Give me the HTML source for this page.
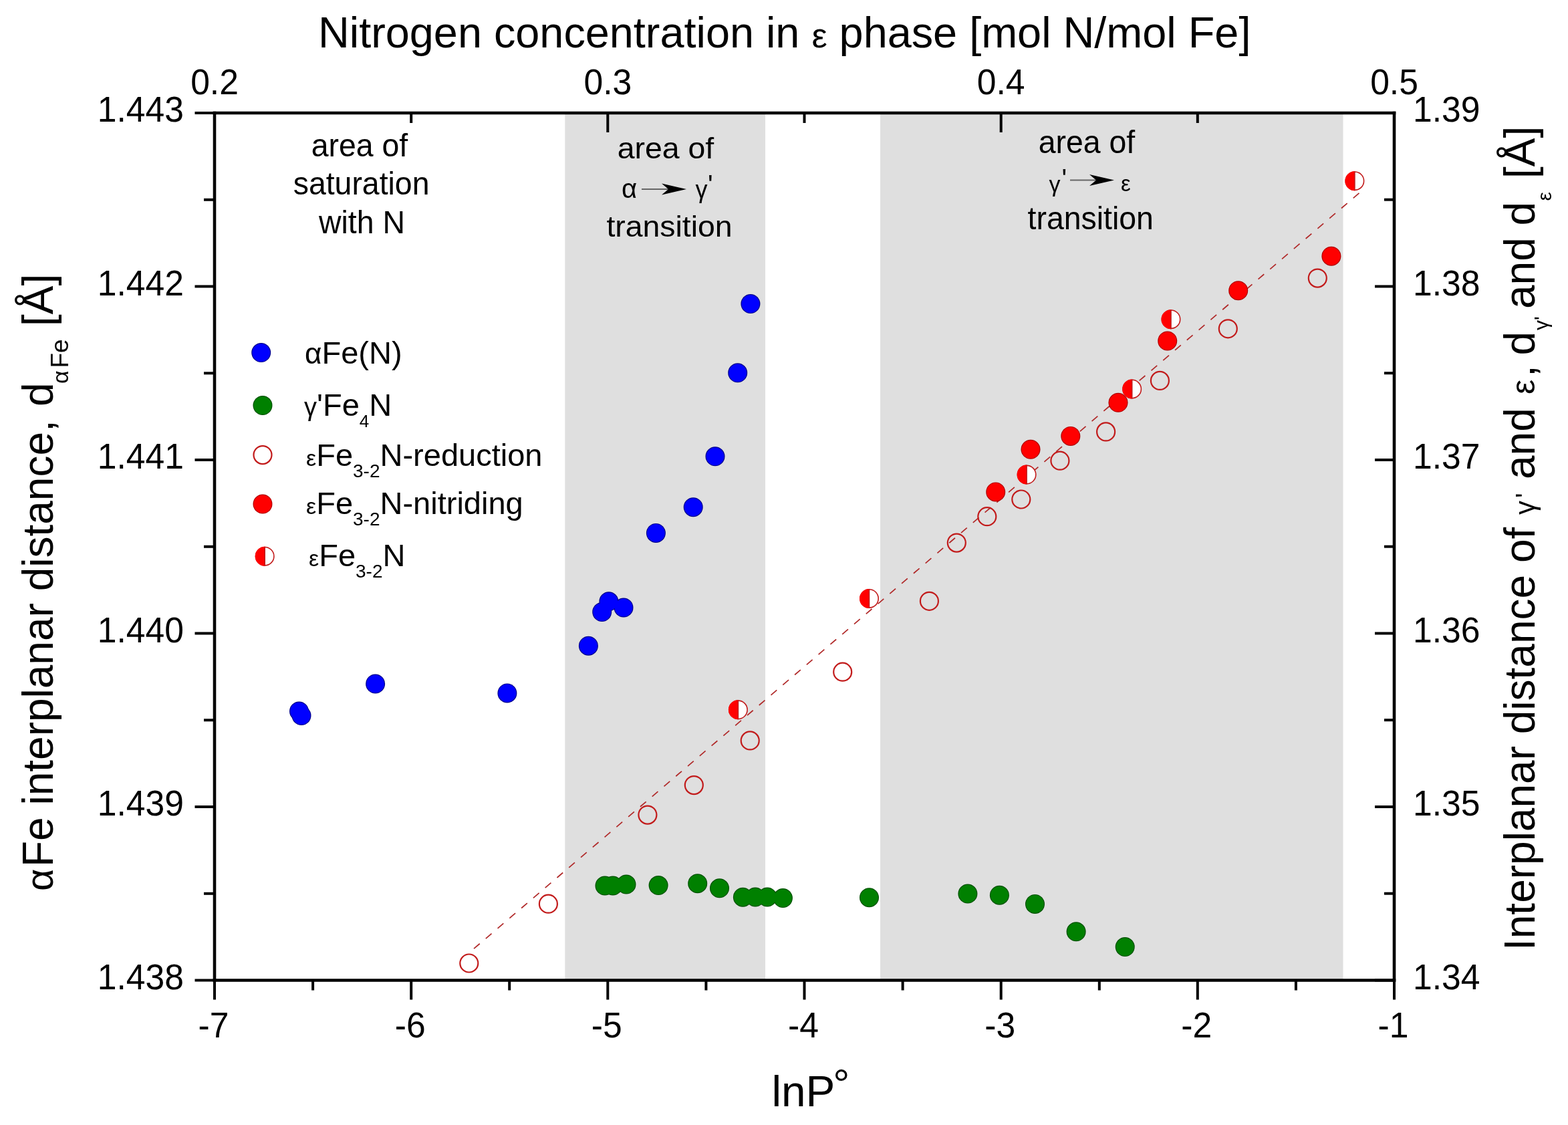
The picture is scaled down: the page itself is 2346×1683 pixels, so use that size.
<!DOCTYPE html>
<html><head><meta charset="utf-8"><title>Interplanar distance vs lnP</title>
<style>html,body{margin:0;padding:0;background:#fff;}body{width:2346px;height:1683px;overflow:hidden;}svg{display:block;}text{font-family:'Liberation Sans', Arial, sans-serif;fill:#000;}</style>
</head><body>
<svg width="2346" height="1683" viewBox="0 0 2346 1683">
<rect x="0" y="0" width="2346" height="1683" fill="#fff"/>
<rect x="845.3" y="169.0" width="299.7" height="1297.5" fill="#dfdfdf"/>
<rect x="1317" y="169.0" width="692.5" height="1297.5" fill="#dfdfdf"/>
<g stroke="#000" stroke-linecap="butt" fill="none">
<line x1="321.0" y1="166.7" x2="321.0" y2="1468.8" stroke-width="4.6"/>
<line x1="2086.0" y1="166.7" x2="2086.0" y2="1468.8" stroke-width="4.6"/>
<line x1="318.7" y1="169.0" x2="2088.3" y2="169.0" stroke-width="4.6"/>
<line x1="318.7" y1="1466.5" x2="2088.3" y2="1466.5" stroke-width="4.6"/>
<line x1="321.0" y1="1466.5" x2="321.0" y2="1495.5" stroke-width="4.0"/>
<line x1="468.1" y1="1466.5" x2="468.1" y2="1481.5" stroke-width="4.0"/>
<line x1="615.2" y1="1466.5" x2="615.2" y2="1495.5" stroke-width="4.0"/>
<line x1="762.2" y1="1466.5" x2="762.2" y2="1481.5" stroke-width="4.0"/>
<line x1="909.3" y1="1466.5" x2="909.3" y2="1495.5" stroke-width="4.0"/>
<line x1="1056.4" y1="1466.5" x2="1056.4" y2="1481.5" stroke-width="4.0"/>
<line x1="1203.5" y1="1466.5" x2="1203.5" y2="1495.5" stroke-width="4.0"/>
<line x1="1350.6" y1="1466.5" x2="1350.6" y2="1481.5" stroke-width="4.0"/>
<line x1="1497.7" y1="1466.5" x2="1497.7" y2="1495.5" stroke-width="4.0"/>
<line x1="1644.8" y1="1466.5" x2="1644.8" y2="1481.5" stroke-width="4.0"/>
<line x1="1791.8" y1="1466.5" x2="1791.8" y2="1495.5" stroke-width="4.0"/>
<line x1="1938.9" y1="1466.5" x2="1938.9" y2="1481.5" stroke-width="4.0"/>
<line x1="2086.0" y1="1466.5" x2="2086.0" y2="1495.5" stroke-width="4.0"/>
<line x1="321.0" y1="169.0" x2="321.0" y2="198.0" stroke-width="4.0"/>
<line x1="615.2" y1="169.0" x2="615.2" y2="184.0" stroke-width="4.0"/>
<line x1="909.3" y1="169.0" x2="909.3" y2="198.0" stroke-width="4.0"/>
<line x1="1203.5" y1="169.0" x2="1203.5" y2="184.0" stroke-width="4.0"/>
<line x1="1497.7" y1="169.0" x2="1497.7" y2="198.0" stroke-width="4.0"/>
<line x1="1791.8" y1="169.0" x2="1791.8" y2="184.0" stroke-width="4.0"/>
<line x1="2086.0" y1="169.0" x2="2086.0" y2="198.0" stroke-width="4.0"/>
<line x1="321.0" y1="1466.5" x2="291.5" y2="1466.5" stroke-width="4.0"/>
<line x1="321.0" y1="1336.8" x2="305.0" y2="1336.8" stroke-width="4.0"/>
<line x1="321.0" y1="1207.0" x2="291.5" y2="1207.0" stroke-width="4.0"/>
<line x1="321.0" y1="1077.3" x2="305.0" y2="1077.3" stroke-width="4.0"/>
<line x1="321.0" y1="947.5" x2="291.5" y2="947.5" stroke-width="4.0"/>
<line x1="321.0" y1="817.8" x2="305.0" y2="817.8" stroke-width="4.0"/>
<line x1="321.0" y1="688.0" x2="291.5" y2="688.0" stroke-width="4.0"/>
<line x1="321.0" y1="558.3" x2="305.0" y2="558.3" stroke-width="4.0"/>
<line x1="321.0" y1="428.5" x2="291.5" y2="428.5" stroke-width="4.0"/>
<line x1="321.0" y1="298.8" x2="305.0" y2="298.8" stroke-width="4.0"/>
<line x1="321.0" y1="169.0" x2="291.5" y2="169.0" stroke-width="4.0"/>
<line x1="2086.0" y1="1466.5" x2="2057.0" y2="1466.5" stroke-width="4.0"/>
<line x1="2086.0" y1="1336.7" x2="2071.0" y2="1336.7" stroke-width="4.0"/>
<line x1="2086.0" y1="1207.0" x2="2057.0" y2="1207.0" stroke-width="4.0"/>
<line x1="2086.0" y1="1077.2" x2="2071.0" y2="1077.2" stroke-width="4.0"/>
<line x1="2086.0" y1="947.5" x2="2057.0" y2="947.5" stroke-width="4.0"/>
<line x1="2086.0" y1="817.7" x2="2071.0" y2="817.7" stroke-width="4.0"/>
<line x1="2086.0" y1="688.0" x2="2057.0" y2="688.0" stroke-width="4.0"/>
<line x1="2086.0" y1="558.2" x2="2071.0" y2="558.2" stroke-width="4.0"/>
<line x1="2086.0" y1="428.5" x2="2057.0" y2="428.5" stroke-width="4.0"/>
<line x1="2086.0" y1="298.7" x2="2071.0" y2="298.7" stroke-width="4.0"/>
<line x1="2086.0" y1="169.0" x2="2057.0" y2="169.0" stroke-width="4.0"/>
</g>
<text transform="translate(319.5,1552.0) scale(0.965,1)" font-size="53.5" text-anchor="middle">-7</text>
<text transform="translate(613.7,1552.0) scale(0.965,1)" font-size="53.5" text-anchor="middle">-6</text>
<text transform="translate(907.8,1552.0) scale(0.965,1)" font-size="53.5" text-anchor="middle">-5</text>
<text transform="translate(1202.0,1552.0) scale(0.965,1)" font-size="53.5" text-anchor="middle">-4</text>
<text transform="translate(1496.2,1552.0) scale(0.965,1)" font-size="53.5" text-anchor="middle">-3</text>
<text transform="translate(1790.3,1552.0) scale(0.965,1)" font-size="53.5" text-anchor="middle">-2</text>
<text transform="translate(2084.5,1552.0) scale(0.965,1)" font-size="53.5" text-anchor="middle">-1</text>
<text transform="translate(321.0,141.3) scale(0.965,1)" font-size="53.5" text-anchor="middle">0.2</text>
<text transform="translate(909.3,141.3) scale(0.965,1)" font-size="53.5" text-anchor="middle">0.3</text>
<text transform="translate(1497.7,141.3) scale(0.965,1)" font-size="53.5" text-anchor="middle">0.4</text>
<text transform="translate(2086.0,141.3) scale(0.965,1)" font-size="53.5" text-anchor="middle">0.5</text>
<text transform="translate(275.0,1479.9) scale(0.965,1)" font-size="53.5" text-anchor="end">1.438</text>
<text transform="translate(275.0,1220.4) scale(0.965,1)" font-size="53.5" text-anchor="end">1.439</text>
<text transform="translate(275.0,960.9) scale(0.965,1)" font-size="53.5" text-anchor="end">1.440</text>
<text transform="translate(275.0,701.4) scale(0.965,1)" font-size="53.5" text-anchor="end">1.441</text>
<text transform="translate(275.0,441.9) scale(0.965,1)" font-size="53.5" text-anchor="end">1.442</text>
<text transform="translate(275.0,182.4) scale(0.965,1)" font-size="53.5" text-anchor="end">1.443</text>
<text transform="translate(2114.0,1479.9) scale(0.965,1)" font-size="53.5">1.34</text>
<text transform="translate(2114.0,1220.4) scale(0.965,1)" font-size="53.5">1.35</text>
<text transform="translate(2114.0,960.9) scale(0.965,1)" font-size="53.5">1.36</text>
<text transform="translate(2114.0,701.4) scale(0.965,1)" font-size="53.5">1.37</text>
<text transform="translate(2114.0,441.9) scale(0.965,1)" font-size="53.5">1.38</text>
<text transform="translate(2114.0,182.4) scale(0.965,1)" font-size="53.5">1.39</text>
<text transform="translate(476.0,70.5)" font-size="64.8">Nitrogen concentration in <tspan font-size="52">ε</tspan> phase [mol N/mol Fe]</text>
<text transform="translate(1154.5,1654.5) scale(1.010,1)" font-size="65.0">lnP<tspan dx="-3" dy="-12" font-size="62">°</tspan></text>
<text transform="translate(79.0,1333.0) rotate(-90)" font-size="58.0">α</text>
<text transform="translate(78.5,1297.0) rotate(-90)" font-size="64.0">Fe interplanar distance,</text>
<text transform="translate(78.5,608.0) rotate(-90)" font-size="64.0">d</text>
<text transform="translate(101.5,574.0) rotate(-90)" font-size="34.0">α</text>
<text transform="translate(101.5,550.5) rotate(-90)" font-size="37.0">Fe</text>
<text transform="translate(78.5,488.0) rotate(-90)" font-size="64.0">[Å]</text>
<text transform="translate(2296.0,1422.0) rotate(-90)" font-size="64.0">Interplanar distance of</text>
<text transform="translate(2296.0,770.0) rotate(-90)" font-size="42.0">γ</text>
<text transform="translate(2296.0,745.0) rotate(-90)" font-size="40.0">'</text>
<text transform="translate(2296.0,717.0) rotate(-90)" font-size="64.0">and</text>
<text transform="translate(2296.0,590.0) rotate(-90)" font-size="50.0">ε</text>
<text transform="translate(2296.0,564.0) rotate(-90)" font-size="64.0">,</text>
<text transform="translate(2296.0,531.5) rotate(-90)" font-size="64.0">d</text>
<text transform="translate(2316.0,494.0) rotate(-90)" font-size="30.0">γ'</text>
<text transform="translate(2296.0,462.0) rotate(-90)" font-size="64.0">and d</text>
<text transform="translate(2321.0,300.5) rotate(-90)" font-size="30.0">ε</text>
<text transform="translate(2296.0,267.0) rotate(-90)" font-size="64.0">[Å]</text>
<text transform="translate(538.0,234.0) scale(0.967,1)" font-size="48.0" text-anchor="middle">area of</text>
<text transform="translate(540.6,291.2) scale(0.967,1)" font-size="48.0" text-anchor="middle">saturation</text>
<text transform="translate(541.5,348.8) scale(0.967,1)" font-size="48.0" text-anchor="middle">with N</text>
<text transform="translate(1625.9,228.7) scale(0.967,1)" font-size="48.0" text-anchor="middle">area of</text>
<text transform="translate(1631.7,342.6) scale(0.967,1)" font-size="48.0" text-anchor="middle">transition</text>
<text transform="translate(995.9,236.8) scale(1.031,1)" font-size="45.0" text-anchor="middle">area of</text>
<text transform="translate(1001.5,353.7) scale(1.031,1)" font-size="45.0" text-anchor="middle">transition</text>
<text transform="translate(930.0,296.0)" font-size="40.0">α</text>
<text transform="translate(1040.5,296.0)" font-size="36.0">γ</text>
<text transform="translate(1059.0,290.0)" font-size="40.0">'</text>
<text transform="translate(1569.5,286.5)" font-size="34.0">γ</text>
<text transform="translate(1588.5,281.0)" font-size="40.0">'</text>
<text transform="translate(1677.0,285.7)" font-size="33.0">ε</text>
<line x1="960.0" y1="283.0" x2="1007.0" y2="283.0" stroke="#666" stroke-width="2.2"/><path d="M1027.0 283.0 L990.0 274.5 L1000.0 283.0 L990.0 291.5 Z" fill="#000"/>
<line x1="1601.0" y1="269.5" x2="1647.0" y2="269.5" stroke="#666" stroke-width="2.2"/><path d="M1667.0 269.5 L1630.0 261.0 L1640.0 269.5 L1630.0 278.0 Z" fill="#000"/>
<circle cx="393" cy="680.6" r="13.5" fill="none" stroke="#c21b1b" stroke-width="2.2"/>
<circle cx="396.2" cy="832.2" r="13.7" fill="#fff" stroke="#c21b1b" stroke-width="1.6"/><path d="M396.2 817.7 A14.5 14.5 0 0 0 396.2 846.7 Z" fill="#ff0000"/><line x1="396.2" y1="817.7" x2="396.2" y2="846.7" stroke="#c21b1b" stroke-width="1.6"/>
<text transform="translate(456.0,544.2)" font-size="47.0"><tspan font-size="44">α</tspan>Fe(N)</text>
<text transform="translate(455.0,622.0)" font-size="47.0"><tspan font-size="38">γ</tspan>'Fe<tspan font-size="26" dy="17">4</tspan><tspan dy="-17">N</tspan></text>
<text transform="translate(458.0,696.7)" font-size="47.0"><tspan font-size="34">ε</tspan>Fe<tspan font-size="28" dy="17">3-2</tspan><tspan dy="-17">N-reduction</tspan></text>
<text transform="translate(458.0,769.1)" font-size="47.0"><tspan font-size="34">ε</tspan>Fe<tspan font-size="28" dy="17">3-2</tspan><tspan dy="-17">N-nitriding</tspan></text>
<text transform="translate(462.0,847.4)" font-size="47.0"><tspan font-size="34">ε</tspan>Fe<tspan font-size="28" dy="17">3-2</tspan><tspan dy="-17">N</tspan></text>
<line x1="709.0" y1="1419.2" x2="2036.0" y2="286.7" stroke="#b02828" stroke-width="1.7" stroke-dasharray="11.5 11.875"/>
<circle cx="447.5" cy="1064.0" r="14.50" fill="#00008a"/>
<circle cx="451.0" cy="1070.5" r="14.50" fill="#00008a"/>
<circle cx="561.6" cy="1023.0" r="14.50" fill="#00008a"/>
<circle cx="758.9" cy="1036.9" r="14.50" fill="#00008a"/>
<circle cx="880.4" cy="966.2" r="14.50" fill="#00008a"/>
<circle cx="900.7" cy="915.5" r="14.50" fill="#00008a"/>
<circle cx="910.9" cy="899.8" r="14.50" fill="#00008a"/>
<circle cx="933.0" cy="909.0" r="14.50" fill="#00008a"/>
<circle cx="981.4" cy="797.4" r="14.50" fill="#00008a"/>
<circle cx="1037.2" cy="758.7" r="14.50" fill="#00008a"/>
<circle cx="1070.0" cy="682.8" r="14.50" fill="#00008a"/>
<circle cx="1103.7" cy="557.8" r="14.50" fill="#00008a"/>
<circle cx="1122.9" cy="454.6" r="14.50" fill="#00008a"/>
<circle cx="390.7" cy="527.6" r="14.50" fill="#00008a"/>
<circle cx="447.5" cy="1064.0" r="13.30" fill="#0000ff"/>
<circle cx="451.0" cy="1070.5" r="13.30" fill="#0000ff"/>
<circle cx="561.6" cy="1023.0" r="13.30" fill="#0000ff"/>
<circle cx="758.9" cy="1036.9" r="13.30" fill="#0000ff"/>
<circle cx="880.4" cy="966.2" r="13.30" fill="#0000ff"/>
<circle cx="900.7" cy="915.5" r="13.30" fill="#0000ff"/>
<circle cx="910.9" cy="899.8" r="13.30" fill="#0000ff"/>
<circle cx="933.0" cy="909.0" r="13.30" fill="#0000ff"/>
<circle cx="981.4" cy="797.4" r="13.30" fill="#0000ff"/>
<circle cx="1037.2" cy="758.7" r="13.30" fill="#0000ff"/>
<circle cx="1070.0" cy="682.8" r="13.30" fill="#0000ff"/>
<circle cx="1103.7" cy="557.8" r="13.30" fill="#0000ff"/>
<circle cx="1122.9" cy="454.6" r="13.30" fill="#0000ff"/>
<circle cx="390.7" cy="527.6" r="13.30" fill="#0000ff"/>
<circle cx="905.0" cy="1325.0" r="14.50" fill="#005000"/>
<circle cx="917.0" cy="1325.0" r="14.50" fill="#005000"/>
<circle cx="937.0" cy="1323.0" r="14.50" fill="#005000"/>
<circle cx="985.1" cy="1324.6" r="14.50" fill="#005000"/>
<circle cx="1043.7" cy="1321.7" r="14.50" fill="#005000"/>
<circle cx="1076.5" cy="1328.8" r="14.50" fill="#005000"/>
<circle cx="1111.4" cy="1342.2" r="14.50" fill="#005000"/>
<circle cx="1130.0" cy="1342.0" r="14.50" fill="#005000"/>
<circle cx="1148.0" cy="1342.0" r="14.50" fill="#005000"/>
<circle cx="1171.4" cy="1343.6" r="14.50" fill="#005000"/>
<circle cx="1300.5" cy="1342.7" r="14.50" fill="#005000"/>
<circle cx="1447.9" cy="1337.1" r="14.50" fill="#005000"/>
<circle cx="1495.4" cy="1339.2" r="14.50" fill="#005000"/>
<circle cx="1548.5" cy="1352.4" r="14.50" fill="#005000"/>
<circle cx="1610.1" cy="1393.8" r="14.50" fill="#005000"/>
<circle cx="1683.2" cy="1416.6" r="14.50" fill="#005000"/>
<circle cx="393.0" cy="606.5" r="14.50" fill="#005000"/>
<circle cx="905.0" cy="1325.0" r="13.30" fill="#008000"/>
<circle cx="917.0" cy="1325.0" r="13.30" fill="#008000"/>
<circle cx="937.0" cy="1323.0" r="13.30" fill="#008000"/>
<circle cx="985.1" cy="1324.6" r="13.30" fill="#008000"/>
<circle cx="1043.7" cy="1321.7" r="13.30" fill="#008000"/>
<circle cx="1076.5" cy="1328.8" r="13.30" fill="#008000"/>
<circle cx="1111.4" cy="1342.2" r="13.30" fill="#008000"/>
<circle cx="1130.0" cy="1342.0" r="13.30" fill="#008000"/>
<circle cx="1148.0" cy="1342.0" r="13.30" fill="#008000"/>
<circle cx="1171.4" cy="1343.6" r="13.30" fill="#008000"/>
<circle cx="1300.5" cy="1342.7" r="13.30" fill="#008000"/>
<circle cx="1447.9" cy="1337.1" r="13.30" fill="#008000"/>
<circle cx="1495.4" cy="1339.2" r="13.30" fill="#008000"/>
<circle cx="1548.5" cy="1352.4" r="13.30" fill="#008000"/>
<circle cx="1610.1" cy="1393.8" r="13.30" fill="#008000"/>
<circle cx="1683.2" cy="1416.6" r="13.30" fill="#008000"/>
<circle cx="393.0" cy="606.5" r="13.30" fill="#008000"/>
<circle cx="701.8" cy="1441.0" r="13.5" fill="none" stroke="#c21b1b" stroke-width="2.2"/>
<circle cx="820.4" cy="1352.2" r="13.5" fill="none" stroke="#c21b1b" stroke-width="2.2"/>
<circle cx="968.9" cy="1219.1" r="13.5" fill="none" stroke="#c21b1b" stroke-width="2.2"/>
<circle cx="1038.3" cy="1174.6" r="13.5" fill="none" stroke="#c21b1b" stroke-width="2.2"/>
<circle cx="1122.2" cy="1107.9" r="13.5" fill="none" stroke="#c21b1b" stroke-width="2.2"/>
<circle cx="1260.7" cy="1005.2" r="13.5" fill="none" stroke="#c21b1b" stroke-width="2.2"/>
<circle cx="1390.4" cy="899.3" r="13.5" fill="none" stroke="#c21b1b" stroke-width="2.2"/>
<circle cx="1431.3" cy="812.1" r="13.5" fill="none" stroke="#c21b1b" stroke-width="2.2"/>
<circle cx="1476.8" cy="772.7" r="13.5" fill="none" stroke="#c21b1b" stroke-width="2.2"/>
<circle cx="1527.8" cy="747.0" r="13.5" fill="none" stroke="#c21b1b" stroke-width="2.2"/>
<circle cx="1585.9" cy="689.2" r="13.5" fill="none" stroke="#c21b1b" stroke-width="2.2"/>
<circle cx="1654.6" cy="645.9" r="13.5" fill="none" stroke="#c21b1b" stroke-width="2.2"/>
<circle cx="1735.4" cy="569.4" r="13.5" fill="none" stroke="#c21b1b" stroke-width="2.2"/>
<circle cx="1837.3" cy="491.8" r="13.5" fill="none" stroke="#c21b1b" stroke-width="2.2"/>
<circle cx="1971.3" cy="416.1" r="13.5" fill="none" stroke="#c21b1b" stroke-width="2.2"/>
<circle cx="1489.7" cy="735.9" r="14.50" fill="#b00000"/>
<circle cx="1542.0" cy="672.3" r="14.50" fill="#b00000"/>
<circle cx="1601.8" cy="652.4" r="14.50" fill="#b00000"/>
<circle cx="1673.0" cy="602.3" r="14.50" fill="#b00000"/>
<circle cx="1746.7" cy="510.0" r="14.50" fill="#b00000"/>
<circle cx="1852.7" cy="434.7" r="14.50" fill="#b00000"/>
<circle cx="1991.9" cy="383.2" r="14.50" fill="#b00000"/>
<circle cx="393.0" cy="754.0" r="14.50" fill="#b00000"/>
<circle cx="1489.7" cy="735.9" r="13.30" fill="#ff0000"/>
<circle cx="1542.0" cy="672.3" r="13.30" fill="#ff0000"/>
<circle cx="1601.8" cy="652.4" r="13.30" fill="#ff0000"/>
<circle cx="1673.0" cy="602.3" r="13.30" fill="#ff0000"/>
<circle cx="1746.7" cy="510.0" r="13.30" fill="#ff0000"/>
<circle cx="1852.7" cy="434.7" r="13.30" fill="#ff0000"/>
<circle cx="1991.9" cy="383.2" r="13.30" fill="#ff0000"/>
<circle cx="393.0" cy="754.0" r="13.30" fill="#ff0000"/>
<circle cx="1104.4" cy="1061.8" r="13.7" fill="#fff" stroke="#c21b1b" stroke-width="1.6"/><path d="M1104.4 1047.3 A14.5 14.5 0 0 0 1104.4 1076.3 Z" fill="#ff0000"/><line x1="1104.4" y1="1047.3" x2="1104.4" y2="1076.3" stroke="#c21b1b" stroke-width="1.6"/>
<circle cx="1300.5" cy="895.4" r="13.7" fill="#fff" stroke="#c21b1b" stroke-width="1.6"/><path d="M1300.5 880.9 A14.5 14.5 0 0 0 1300.5 909.9 Z" fill="#ff0000"/><line x1="1300.5" y1="880.9" x2="1300.5" y2="909.9" stroke="#c21b1b" stroke-width="1.6"/>
<circle cx="1536.1" cy="710.1" r="13.7" fill="#fff" stroke="#c21b1b" stroke-width="1.6"/><path d="M1536.1 695.6 A14.5 14.5 0 0 0 1536.1 724.6 Z" fill="#ff0000"/><line x1="1536.1" y1="695.6" x2="1536.1" y2="724.6" stroke="#c21b1b" stroke-width="1.6"/>
<circle cx="1693.7" cy="582.0" r="13.7" fill="#fff" stroke="#c21b1b" stroke-width="1.6"/><path d="M1693.7 567.5 A14.5 14.5 0 0 0 1693.7 596.5 Z" fill="#ff0000"/><line x1="1693.7" y1="567.5" x2="1693.7" y2="596.5" stroke="#c21b1b" stroke-width="1.6"/>
<circle cx="1752.0" cy="477.7" r="13.7" fill="#fff" stroke="#c21b1b" stroke-width="1.6"/><path d="M1752.0 463.2 A14.5 14.5 0 0 0 1752.0 492.2 Z" fill="#ff0000"/><line x1="1752.0" y1="463.2" x2="1752.0" y2="492.2" stroke="#c21b1b" stroke-width="1.6"/>
<circle cx="2026.9" cy="270.7" r="13.7" fill="#fff" stroke="#c21b1b" stroke-width="1.6"/><path d="M2026.9 256.2 A14.5 14.5 0 0 0 2026.9 285.2 Z" fill="#ff0000"/><line x1="2026.9" y1="256.2" x2="2026.9" y2="285.2" stroke="#c21b1b" stroke-width="1.6"/>
</svg>
</body></html>
